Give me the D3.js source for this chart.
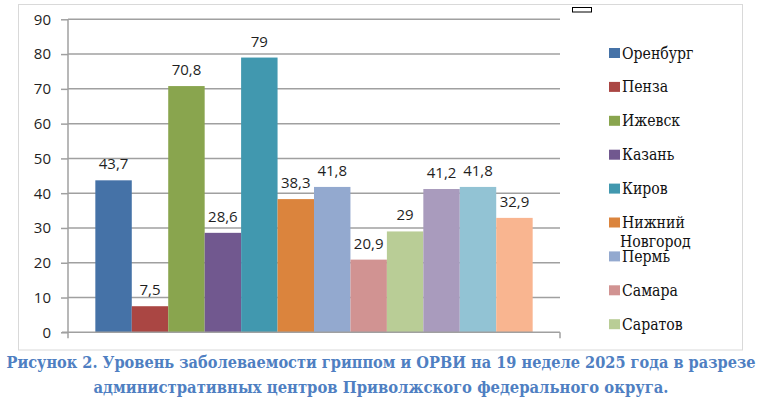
<!DOCTYPE html>
<html><head><meta charset="utf-8">
<script src="https://cdn.jsdelivr.net/npm/d3@7/dist/d3.min.js"></script>
<style>body{margin:0;background:#fff}svg{display:block}
.serif{font-family:"DejaVu Serif",serif}
.sans{font-family:"Open Sans","Liberation Sans",sans-serif}</style>
</head><body>
<svg id="c" width="763" height="407"></svg>
<script>
const categories = ["19 неделя"];
const series = ["Оренбург","Пенза","Ижевск","Казань","Киров","Нижний Новгород","Пермь","Самара","Саратов","Ульяновск","Уфа","Чебоксары"];
const values = [43.7,7.5,70.8,28.6,79,38.3,41.8,20.9,29,41.2,41.8,32.9];
const valueLabels = ["43,7","7,5","70,8","28,6","79","38,3","41,8","20,9","29","41,2","41,8","32,9"];
const yTicks = [0,10,20,30,40,50,60,70,80,90];
const colors = ["#4572a7","#aa4643","#89a54e","#71588f","#4198af","#db843d","#93a9cf","#d19392","#b9cd96","#a99bbd","#92c3d4","#f9b590"];
const legendShown = 9;
const captionLines = ["Рисунок 2. Уровень заболеваемости гриппом и ОРВИ на 19 неделе 2025 года в разрезе","административных центров Приволжского федерального округа."];

const svg = d3.select("#c");
const L = 68, R = 560, T = 19.3, B = 332.3;

svg.append("rect").attr("x",18.5).attr("y",4.5).attr("width",724).attr("height",345.5)
  .attr("fill","#fff").attr("stroke","#d9d9d9").attr("stroke-width",1);

const y = d3.scaleLinear().domain([0,90]).range([B,T]);
const x0 = d3.scaleBand().domain(categories).range([L,R]).paddingInner(0).paddingOuter(0.0625);
const x1 = d3.scaleBand().domain(series).range([0,x0.bandwidth()]).padding(0);

const grid = "#a0a0a0";
svg.append("g").selectAll("line").data(yTicks.filter(d=>d>0)).join("line")
  .attr("x1",L).attr("x2",R).attr("y1",d=>y(d)).attr("y2",d=>y(d))
  .attr("stroke",grid).attr("stroke-width",1.5);

const yAxis = d3.axisLeft(y).tickValues(yTicks).tickSize(7).tickPadding(10).tickFormat(d=>d);
const ga = svg.append("g").attr("transform",`translate(${L},0)`).call(yAxis);
ga.attr("font-family",null).attr("font-size",null);
ga.select(".domain").remove();
ga.selectAll(".tick line").attr("stroke",grid).attr("stroke-width",1.5);
ga.selectAll(".tick text").attr("class","sans").attr("font-size",15).attr("fill","#1f1f1f");
svg.append("line").attr("x1",L).attr("x2",L).attr("y1",T).attr("y2",B+6).attr("stroke",grid).attr("stroke-width",1.5);

const g = svg.append("g").attr("transform",`translate(${x0(categories[0])},0)`);
g.selectAll("rect").data(values).join("rect")
  .attr("x",(d,i)=>x1(series[i])).attr("width",x1.bandwidth())
  .attr("y",d=>y(d)).attr("height",d=>B-y(d))
  .attr("fill",(d,i)=>colors[i]);
g.selectAll("text").data(values).join("text")
  .attr("x",(d,i)=>x1(series[i])+x1.bandwidth()/2).attr("y",d=>y(d)-11)
  .attr("text-anchor","middle").attr("class","sans").attr("font-size",15).attr("fill","#1f1f1f")
  .text((d,i)=>valueLabels[i]);

svg.append("line").attr("x1",L-6).attr("x2",R).attr("y1",B).attr("y2",B).attr("stroke",grid).attr("stroke-width",1.5);
svg.append("line").attr("x1",R).attr("x2",R).attr("y1",B).attr("y2",B+6).attr("stroke",grid).attr("stroke-width",1.5);

svg.append("rect").attr("x",572.5).attr("y",7.5).attr("width",19).attr("height",4.5).attr("fill","#fff").attr("stroke","#000").attr("stroke-width",1);

// legend
const lg = svg.append("g");
const items = lg.selectAll("g").data(series.slice(0,legendShown)).join("g")
  .attr("transform",(d,i)=>`translate(609,${53 + i*33.9})`);
items.append("rect").attr("x",0).attr("y",-5).attr("width",11).attr("height",10).attr("fill",(d,i)=>colors[i]);
const ltexts = [];
items.each(function(d){
  const t = d3.select(this).append("text").attr("class","serif").attr("x",0).attr("y",5.5)
    .attr("font-size",16.5).attr("fill","#111");
  const parts = d.split(" ");
  parts.forEach((p,j)=>t.append("tspan").attr("x",0).attr("dy",j?19:0).text(p));
  ltexts.push({t, wrapped: parts.length>1});
});
const w0 = ltexts[0].t.node().getComputedTextLength();
const sx = 71.5 / w0;
ltexts.forEach(({t})=>t.attr("transform",`translate(13,0) scale(${sx},1)`));
ltexts.filter(o=>o.wrapped).forEach(({t})=>t.selectAll("tspan").filter((d,j)=>j>0).attr("x",-2/sx));

const capWidths = [749, 575];
svg.append("g").selectAll("text").data(captionLines).join("text")
  .attr("class","serif").attr("x",381).attr("y",(d,i)=>368+i*24.5).attr("text-anchor","middle")
  .attr("font-weight","bold").attr("font-size",16.5)
  .attr("textLength",(d,i)=>capWidths[i]).attr("lengthAdjust","spacingAndGlyphs")
  .attr("fill","#4f7fc2").text(d=>d);
</script>
</body></html>
